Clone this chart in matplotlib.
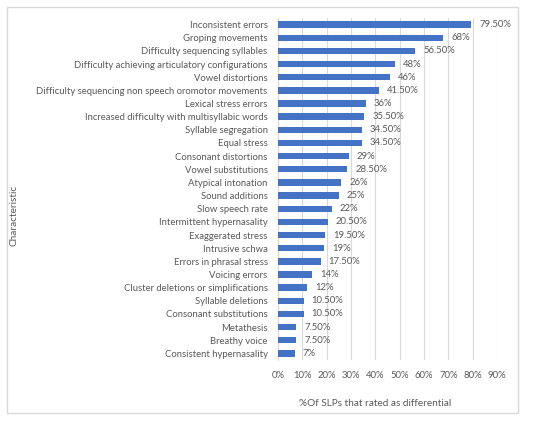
import matplotlib
matplotlib.use("Agg")
import matplotlib.pyplot as plt
from matplotlib.patches import Rectangle

categories = [
    "Inconsistent errors", "Groping movements", "Difficulty sequencing syllables",
    "Difficulty achieving articulatory configurations", "Vowel distortions",
    "Difficulty sequencing non speech oromotor movements", "Lexical stress errors",
    "Increased difficulty with multisyllabic words", "Syllable segregation", "Equal stress",
    "Consonant distortions", "Vowel substitutions", "Atypical intonation", "Sound additions",
    "Slow speech rate", "Intermittent hypernasality", "Exaggerated stress", "Intrusive schwa",
    "Errors in phrasal stress", "Voicing errors", "Cluster deletions or simplifications",
    "Syllable deletions", "Consonant substitutions", "Metathesis", "Breathy voice",
    "Consistent hypernasality",
]
values = [79.5, 68, 56.5, 48, 46, 41.5, 36, 35.5, 34.5, 34.5, 29, 28.5, 26, 25, 22,
          20.5, 19.5, 19, 17.5, 14, 12, 10.5, 10.5, 7.5, 7.5, 7]
xticks = [0, 10, 20, 30, 40, 50, 60, 70, 80, 90]
xlabel = "%Of SLPs that rated as differential"
ylabel = "Characteristic"

plt.rcParams['font.family'] = ['Lato', 'DejaVu Sans']
txt = '#595959'
fs = 6.8

fig = plt.figure(figsize=(5.5, 4.24), dpi=100)
fig.patches.append(Rectangle((7/550, 1-413/424), 511/550, 406/424, transform=fig.transFigure,
                             fill=False, edgecolor='#d9d9d9', linewidth=1))
ax = fig.add_axes([278/550, 1-360/424, 219/550, 342/424])
y = list(range(len(categories)))
ax.barh(y, values, height=0.48, color='#4472C4', zorder=3)
ax.set_ylim(len(categories)-0.5, -0.5)
ax.set_xlim(0, 90)
ax.set_yticks(y)
ax.set_yticklabels(categories, fontsize=fs, color=txt)
ax.set_xticks(xticks)
ax.set_xticklabels([f"{t}%" for t in xticks], fontsize=fs, color=txt)
ax.tick_params(length=0)
ax.tick_params(axis='y', pad=7.5)
ax.tick_params(axis='x', pad=8)
ax.grid(axis='x', color='#d9d9d9', linewidth=0.8, zorder=0)
for s in ['top', 'right', 'bottom']:
    ax.spines[s].set_visible(False)
ax.spines['left'].set_color('#d9d9d9')
for yi, v in zip(y, values):
    lab = f"{v:.2f}%" if v != int(v) else f"{int(v)}%"
    ax.text(v + 3.2, yi, lab, va='center', ha='left', fontsize=fs, color=txt)
ax.set_xlabel(xlabel, fontsize=7.2, color=txt)
ax.xaxis.set_label_coords(0.443, -0.115)
fig.text(14/550, 1-215/424, ylabel, rotation=90, va='center', ha='center', fontsize=7.2, color=txt)
fig.savefig("out.png", dpi=100)
